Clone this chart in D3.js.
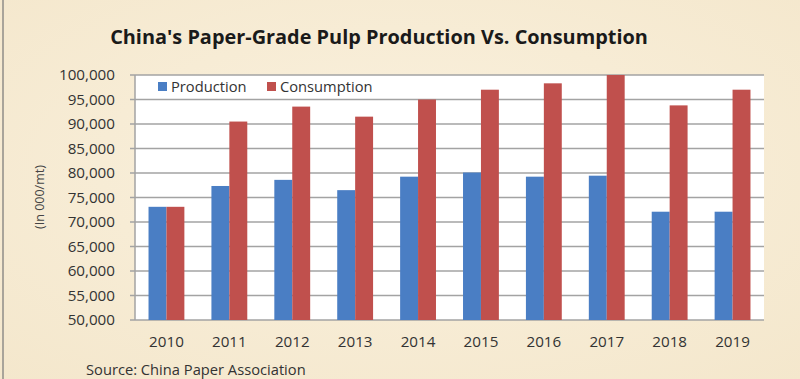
<!DOCTYPE html>
<html><head><meta charset="utf-8">
<script src="https://cdn.jsdelivr.net/npm/d3@7"></script>
<style>
html,body{margin:0;padding:0;background:#f7ecd6;}
svg{display:block;}
</style></head>
<body><svg id="c" width="800" height="379"></svg>
<script>
const years = ["2010","2011","2012","2013","2014","2015","2016","2017","2018","2019"];
const production = [73100, 77350, 78600, 76500, 79250, 80100, 79250, 79450, 72100, 72100];
const consumption = [73100, 90500, 93550, 91500, 95000, 97000, 98300, 100000, 93800, 97000];
const seriesNames = ["Production", "Consumption"];
const yTicks = [50000,55000,60000,65000,70000,75000,80000,85000,90000,95000,100000];
const colors = ["#4a7ec4", "#c0504d"];

const svg = d3.select("#c");
const W = 800, H = 379;
const font = "'Open Sans', sans-serif";

// background
const defs = svg.append("defs");
const rg = defs.append("radialGradient").attr("id","bg").attr("cx","50%").attr("cy","45%").attr("r","75%");
rg.append("stop").attr("offset","0%").attr("stop-color","#faf1de");
rg.append("stop").attr("offset","100%").attr("stop-color","#f4e7cc");
svg.append("rect").attr("width",W).attr("height",H).attr("fill","url(#bg)");
svg.append("line").attr("x1",3).attr("x2",3).attr("y1",0).attr("y2",H).attr("stroke","#a9a49a").attr("stroke-width",2);

const m = {left:135, right:764, top:75, bottom:320};
const x = d3.scaleBand().domain(years).range([m.left, m.right]).paddingInner(0.43).paddingOuter(0.215);
const x1 = d3.scaleBand().domain(seriesNames).range([0, x.bandwidth()]);
const y = d3.scaleLinear().domain([50000,100000]).range([m.bottom, m.top]);

// plot area
svg.append("rect").attr("x",m.left).attr("y",m.top).attr("width",m.right-m.left).attr("height",m.bottom-m.top).attr("fill","#ffffff");

// gridlines
svg.append("g").selectAll("line").data(yTicks).join("line")
  .attr("x1",m.left-5).attr("x2",m.right).attr("y1",d=>y(d)).attr("y2",d=>y(d))
  .attr("stroke","#a3a3a3").attr("stroke-width",1.5);
svg.append("line").attr("x1",m.left).attr("x2",m.left).attr("y1",m.top).attr("y2",m.bottom)
  .attr("stroke","#a3a3a3").attr("stroke-width",1.5);

// y axis labels
const yAxis = d3.axisLeft(y).tickValues(yTicks).tickFormat(d3.format(",")).tickSize(0).tickPadding(20);
const ga = svg.append("g").attr("transform",`translate(${m.left},0)`).call(yAxis);
ga.select(".domain").remove();
ga.selectAll("text").attr("font-family",font).attr("font-size",15.2).attr("fill","#333");

// bars
const data = years.map((yr,i)=>({year:yr, vals:[production[i], consumption[i]]}));
const groups = svg.append("g").selectAll("g").data(data).join("g")
  .attr("transform",d=>`translate(${x(d.year)},0)`);
groups.selectAll("rect").data(d=>d.vals.map((v,j)=>({name:seriesNames[j], v, j}))).join("rect")
  .attr("x",d=>x1(d.name)).attr("width",x1.bandwidth())
  .attr("y",d=>y(d.v)).attr("height",d=>y(50000)-y(d.v))
  .attr("fill",d=>colors[d.j]);

// x axis labels
const xAxis = d3.axisBottom(x).tickSize(0).tickPadding(16);
const gx = svg.append("g").attr("transform",`translate(0,${m.bottom})`).call(xAxis);
gx.select(".domain").remove();
gx.selectAll("text").attr("font-family",font).attr("font-size",15.2).attr("fill","#333");

// title
const title = svg.append("text").attr("x",379).attr("y",44).attr("text-anchor","middle")
  .attr("font-family",font).attr("font-weight","bold").attr("font-size",20).attr("fill","#1a1a1a")
  .text("China's Paper-Grade Pulp Production Vs. Consumption");
const tw = title.node().getComputedTextLength();
title.attr("font-size", 20*538/tw);

// y label
svg.append("text").attr("transform","translate(44,197) rotate(-90)").attr("text-anchor","middle")
  .attr("font-family",font).attr("font-size",12.5).attr("fill","#444").text("(In 000/mt)");

// legend
const legX = [158, 267];
const leg = svg.append("g").selectAll("g").data(seriesNames).join("g")
  .attr("transform",(d,i)=>`translate(${legX[i]},87)`);
leg.append("rect").attr("x",0).attr("y",-5).attr("width",9).attr("height",9).attr("fill",(d,i)=>colors[i]);
leg.append("text").attr("x",13).attr("y",5).attr("font-family",font).attr("font-size",14.7).attr("fill","#333").text(d=>d);

// source
svg.append("text").attr("x",86).attr("y",375).attr("font-family",font).attr("font-size",14.7).attr("fill","#333")
  .text("Source: China Paper Association");
</script>
</body></html>
